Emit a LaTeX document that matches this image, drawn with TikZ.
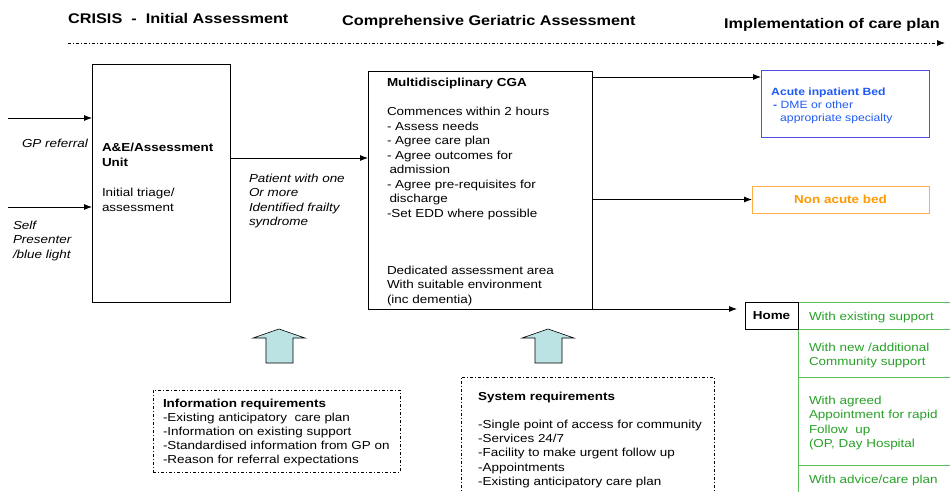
\documentclass[tikz,border=0pt]{standalone}
\usepackage{fontspec}
\setmainfont{Liberation Sans}[FakeStretch=1.16]
\usetikzlibrary{arrows.meta}
\definecolor{acuteblue}{RGB}{30,90,245}
\definecolor{acuteframe}{RGB}{80,80,230}
\definecolor{nonorange}{RGB}{255,153,0}
\definecolor{nonframe}{RGB}{255,175,70}
\definecolor{homegreen}{RGB}{40,160,40}
\definecolor{homeframe}{RGB}{90,190,90}
\definecolor{blockfill}{RGB}{188,227,228}
\newcommand\blines[1]{\begin{tabular}[t]{@{}l@{}}#1\end{tabular}}
\tikzset{
  box/.style={draw, line width=0.8pt, inner sep=0pt, outer sep=0pt, anchor=north west},
  dbox/.style={draw, line width=0.7pt, dash pattern={on 3pt off 2pt on 1pt off 2pt}, inner sep=0pt, outer sep=0pt, anchor=north west},
  arr/.style={-{Latex[length=8pt,width=6pt]}, line width=0.8pt},
  txt/.style={anchor=base west, inner sep=0pt, outer sep=0pt, font=\fontsize{11.6}{14.5}\selectfont},
  txts/.style={anchor=base west, inner sep=0pt, outer sep=0pt, font=\fontsize{11.6}{14}\selectfont},
  head/.style={anchor=base west, inner sep=0pt, font=\fontsize{14}{16}\selectfont\bfseries},
  blockarrow/.style={draw, line width=0.6pt, fill=blockfill},
  greenrow/.style={box, draw=homeframe, line width=1pt, minimum width=170pt},
  gtxt/.style={txt, text=homegreen},
}
\begin{document}
\begin{tikzpicture}[x=1pt,y=-1pt]
\useasboundingbox (0,0) rectangle (950,492);

% headings
\node[head] (h1) at (68,24) {CRISIS\ \ -\ \ Initial Assessment};
\node[head] (h2) at (342,26) {Comprehensive Geriatric Assessment};
\node[head] (h3) at (724,29) {Implementation of care plan};
\coordinate (tl0) at (68,43);
\coordinate (tl1) at (945,43);
\draw[-{Latex[length=8pt,width=6pt]}, line width=0.7pt, dash pattern={on 3pt off 2pt on 1pt off 2pt}] (tl0) -- (tl1);

% main boxes
\node[box, minimum width=138pt, minimum height=238pt] (AE) at (92,64) {};
\node[box, minimum width=224pt, minimum height=238pt] (MCGA) at (368,71) {};
\node[box, draw=acuteframe, line width=1pt, minimum width=168pt, minimum height=67pt] (Acute) at (761,71) {};
\node[box, draw=nonframe, line width=1pt, minimum width=177pt, minimum height=27pt, font=\fontsize{11.6}{14}\selectfont\bfseries, text=nonorange] (Non) at (752,186) {Non acute bed};

% green table
\node[greenrow, minimum height=27pt] (g1) at (798,302) {};
\node[greenrow, minimum height=48pt] (g2) at (798,329) {};
\node[greenrow, minimum height=88pt] (g3) at (798,377) {};
\node[greenrow, minimum height=40pt] (g4) at (798,465) {};
\node[box, minimum width=53pt, minimum height=27pt, font=\fontsize{11.6}{14}\selectfont\bfseries] (Home) at (745,302) {Home};

% texts
\node[txt, font=\fontsize{11.6}{14.5}\selectfont\itshape] (gp) at (22,147) {GP referral};
\node[txt, font=\fontsize{11.6}{14.5}\selectfont\itshape] (self) at (13,229) {\blines{Self\\Presenter\\/blue light}};
\node[txt] (aet) at (102,151.5) {\blines{\textbf{A\&E/Assessment}\\\textbf{Unit}\\[16pt]Initial triage/\\assessment}};
\node[txt, font=\fontsize{11.6}{14.5}\selectfont\itshape] (pat) at (249,182) {\blines{Patient with one\\Or more\\Identified frailty\\syndrome}};
\node[txt] (mt) at (387,87) {\blines{\textbf{Multidisciplinary CGA}\\[14.5pt]Commences within 2 hours\\- Assess needs\\- Agree care plan\\- Agree outcomes for\\\hspace{2.5pt}admission\\- Agree pre-requisites for\\\hspace{2.5pt}discharge\\-Set EDD where possible}};
\node[txt] (mb) at (387,274) {\blines{Dedicated assessment area\\With suitable environment\\(inc dementia)}};
\node[anchor=base west, inner sep=0pt, font=\fontsize{10.5}{13}\selectfont, text=acuteblue] (at) at (771,96) {\blines{\textbf{Acute inpatient Bed}\\\hspace{2pt}\textbf{-} DME or other\\\hspace{9pt}appropriate specialty}};

\node[gtxt] (gt1) at (809,320) {With existing support};
\node[gtxt] (gt2) at (809,351) {\blines{With new /additional\\Community support}};
\node[gtxt] (gt3) at (809,404) {\blines{With agreed\\Appointment for rapid\\Follow\ \ up\\(OP, Day Hospital}};
\node[gtxt] (gt4) at (809,483) {With advice/care plan};

% requirement boxes
\node[dbox, minimum width=247pt, minimum height=82pt] (Info) at (153,390) {};
\node[txts] (it) at (163,407) {\blines{\textbf{Information requirements}\\-Existing anticipatory\ \ care plan\\-Information on existing support\\-Standardised information from GP on\\-Reason for referral expectations}};
\node[dbox, minimum width=253pt, minimum height=130pt] (Sys) at (461,377) {};
\node[anchor=base west, inner sep=0pt, font=\fontsize{11.6}{14.2}\selectfont] (st) at (478,400) {\blines{\textbf{System requirements}\\[14.2pt]-Single point of access for community\\-Services 24/7\\-Facility to make urgent follow up\\-Appointments\\-Existing anticipatory care plan}};

% block arrows
\draw[blockarrow] (266,363) -- (266,338) -- (253,338) -- (279,329) -- (305,338) -- (293,338) -- (293,363) -- cycle;
\draw[blockarrow] (535,363) -- (535,338) -- (522,338) -- (548,329) -- (574,338) -- (562,338) -- (562,363) -- cycle;

% connectors
\coordinate (in1) at (8,118);
\coordinate (in2) at (8,207);
\coordinate (y158) at (0,158);
\coordinate (y77) at (0,77);
\draw[arr] (in1) -- (AE.west |- in1);
\draw[arr] (in2) -- (AE.west |- in2);
\draw[arr] (AE.east |- y158) -- (MCGA.west |- y158);
\draw[arr] (MCGA.east |- y77) -- (Acute.west |- y77);
\draw[arr] (MCGA.east |- Non.west) -- (Non.west);
\draw[arr] (MCGA.south east) -- ([xshift=-8pt]Home.west |- MCGA.south east);
\end{tikzpicture}
\end{document}
